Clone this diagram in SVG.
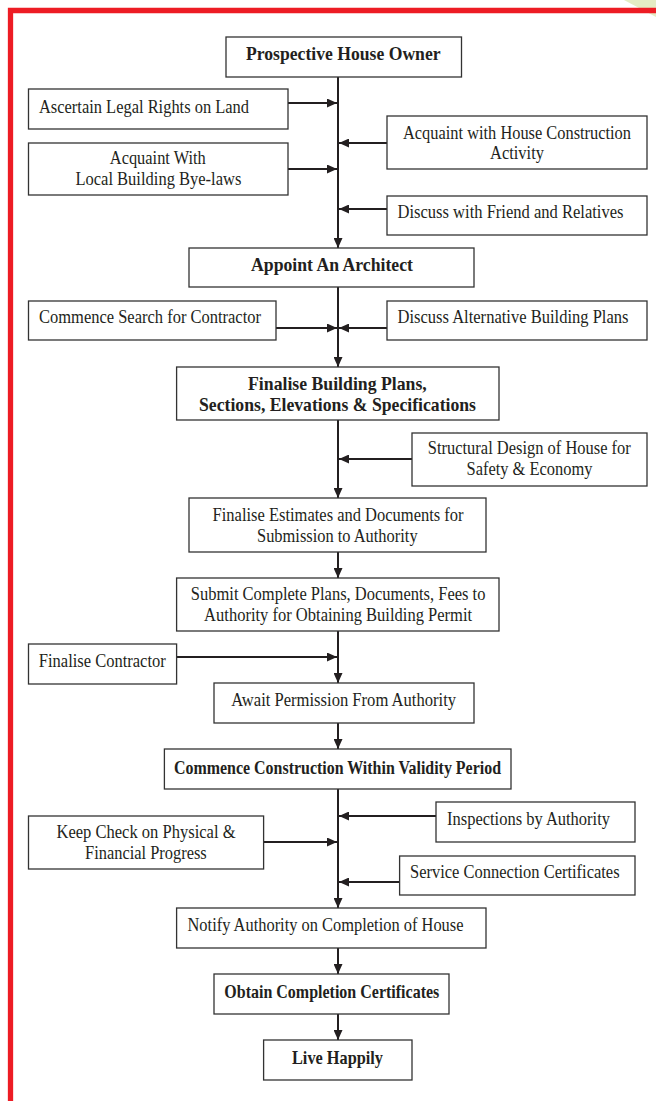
<svg xmlns="http://www.w3.org/2000/svg" width="656" height="1101" viewBox="0 0 656 1101">
<style>
.box{fill:#fff;stroke:#333;stroke-width:1.3}
.t{font-family:"Liberation Serif","Times New Roman",serif;font-size:18.5px;fill:#231f20;text-anchor:middle}
.b{font-weight:bold;font-size:19px}
.c{stroke:#231f20;stroke-width:2;fill:none}
.r{marker-end:url(#ah)}
</style>
<defs>
<marker id="ah" markerUnits="userSpaceOnUse" markerWidth="10" markerHeight="9" refX="10" refY="4.5" orient="auto">
<path d="M0,0 L10,4.5 L0,9 z" fill="#231f20"/>
</marker>
</defs>
<rect width="656" height="1101" fill="#fff"/>
<polygon points="624,0 656,0 656,17" fill="#e4ecc4"/>
<path d="M10.5,1101 V10.5 H656" fill="none" stroke="#ed1c24" stroke-width="5.3"/>

<g id="connectors">
<path class="c r" d="M338,77 V248"/>
<path class="c r" d="M288,103 H337"/>
<path class="c r" d="M387,143 H339"/>
<path class="c r" d="M288,169 H337"/>
<path class="c r" d="M387,209 H339"/>
<path class="c r" d="M338,287 V367"/>
<path class="c r" d="M276,328 H337"/>
<path class="c r" d="M387,328 H339"/>
<path class="c r" d="M338,420 V498"/>
<path class="c r" d="M412,459 H339"/>
<path class="c r" d="M338,552 V578"/>
<path class="c r" d="M338,631 V683"/>
<path class="c r" d="M176.6,657 H337"/>
<path class="c r" d="M338,723 V749"/>
<path class="c r" d="M338,789 V908"/>
<path class="c r" d="M436,816 H339"/>
<path class="c r" d="M263.6,842 H337"/>
<path class="c r" d="M399.6,882 H339"/>
<path class="c r" d="M338,948 V974"/>
<path class="c r" d="M338,1014 V1040"/>
</g>

<g id="n1"><rect class="box" x="226" y="37" width="235.5" height="40"/><text class="t b" x="343.3" y="59.5" textLength="194.6" lengthAdjust="spacingAndGlyphs">Prospective House Owner</text></g>
<g id="n2"><rect class="box" x="28.5" y="89" width="259.5" height="40"/><text class="t" x="144" y="112.7" textLength="210" lengthAdjust="spacingAndGlyphs">Ascertain Legal Rights on Land</text></g>
<g id="n3"><rect class="box" x="387" y="116" width="260" height="53"/><text class="t" x="517" y="138.5" textLength="228" lengthAdjust="spacingAndGlyphs">Acquaint with House Construction</text><text class="t" x="517" y="159.3" textLength="54" lengthAdjust="spacingAndGlyphs">Activity</text></g>
<g id="n4"><rect class="box" x="28.5" y="143" width="259.5" height="52"/><text class="t" x="157.8" y="164.3" textLength="96" lengthAdjust="spacingAndGlyphs">Acquaint With</text><text class="t" x="158.4" y="185" textLength="166" lengthAdjust="spacingAndGlyphs">Local Building Bye-laws</text></g>
<g id="n5"><rect class="box" x="387" y="196" width="260" height="39"/><text class="t" x="510.5" y="218.3" textLength="226" lengthAdjust="spacingAndGlyphs">Discuss with Friend and Relatives</text></g>
<g id="n6"><rect class="box" x="189" y="248" width="285" height="39"/><text class="t b" x="332" y="271" textLength="162" lengthAdjust="spacingAndGlyphs">Appoint An Architect</text></g>
<g id="n7"><rect class="box" x="28.5" y="301" width="247.5" height="39"/><text class="t" x="150" y="323.3" textLength="222" lengthAdjust="spacingAndGlyphs">Commence Search for Contractor</text></g>
<g id="n8"><rect class="box" x="387" y="301" width="260" height="39"/><text class="t" x="513" y="323.3" textLength="231" lengthAdjust="spacingAndGlyphs">Discuss Alternative Building Plans</text></g>
<g id="n9"><rect class="box" x="176.6" y="367" width="322.4" height="53"/><text class="t b" x="337.4" y="390" textLength="178.7" lengthAdjust="spacingAndGlyphs">Finalise Building Plans,</text><text class="t b" x="337.5" y="410.5" textLength="277" lengthAdjust="spacingAndGlyphs">Sections, Elevations &amp; Specifications</text></g>
<g id="n10"><rect class="box" x="412" y="433" width="235" height="53"/><text class="t" x="529.3" y="454.3" textLength="203" lengthAdjust="spacingAndGlyphs">Structural Design of House for</text><text class="t" x="529.5" y="475.3" textLength="126" lengthAdjust="spacingAndGlyphs">Safety &amp; Economy</text></g>
<g id="n11"><rect class="box" x="189" y="498" width="297" height="54"/><text class="t" x="338.1" y="521" textLength="251" lengthAdjust="spacingAndGlyphs">Finalise Estimates and Documents for</text><text class="t" x="337.3" y="541.7" textLength="160.6" lengthAdjust="spacingAndGlyphs">Submission to Authority</text></g>
<g id="n12"><rect class="box" x="176.6" y="578" width="322.4" height="53"/><text class="t" x="338.1" y="600" textLength="294.6" lengthAdjust="spacingAndGlyphs">Submit Complete Plans, Documents, Fees to</text><text class="t" x="338.1" y="620.7" textLength="268" lengthAdjust="spacingAndGlyphs">Authority for Obtaining Building Permit</text></g>
<g id="n13"><rect class="box" x="28.5" y="644" width="148.1" height="40"/><text class="t" x="102.3" y="666.7" textLength="127" lengthAdjust="spacingAndGlyphs">Finalise Contractor</text></g>
<g id="n14"><rect class="box" x="214" y="683" width="260" height="40"/><text class="t" x="343.7" y="705.7" textLength="224.7" lengthAdjust="spacingAndGlyphs">Await Permission From Authority</text></g>
<g id="n15"><rect class="box" x="164.4" y="749" width="346.6" height="40"/><text class="t b" x="337.5" y="774" textLength="327" lengthAdjust="spacingAndGlyphs">Commence Construction Within Validity Period</text></g>
<g id="n16"><rect class="box" x="436" y="802" width="199" height="40"/><text class="t" x="528.5" y="825" textLength="163" lengthAdjust="spacingAndGlyphs">Inspections by Authority</text></g>
<g id="n17"><rect class="box" x="28.5" y="816" width="235.1" height="53"/><text class="t" x="146" y="838.3" textLength="179" lengthAdjust="spacingAndGlyphs">Keep Check on Physical &amp;</text><text class="t" x="145.9" y="859" textLength="121.7" lengthAdjust="spacingAndGlyphs">Financial Progress</text></g>
<g id="n18"><rect class="box" x="399.6" y="856" width="235.4" height="39"/><text class="t" x="514.8" y="878.3" textLength="209.6" lengthAdjust="spacingAndGlyphs">Service Connection Certificates</text></g>
<g id="n19"><rect class="box" x="176.6" y="908" width="309.4" height="40"/><text class="t" x="325.5" y="931" textLength="276" lengthAdjust="spacingAndGlyphs">Notify Authority on Completion of House</text></g>
<g id="n20"><rect class="box" x="214" y="974" width="235" height="40"/><text class="t b" x="331.8" y="998.3" textLength="215" lengthAdjust="spacingAndGlyphs">Obtain Completion Certificates</text></g>
<g id="n21"><rect class="box" x="263.6" y="1040" width="148.4" height="40"/><text class="t b" x="337.5" y="1064.3" textLength="91" lengthAdjust="spacingAndGlyphs">Live Happily</text></g>
</svg>
